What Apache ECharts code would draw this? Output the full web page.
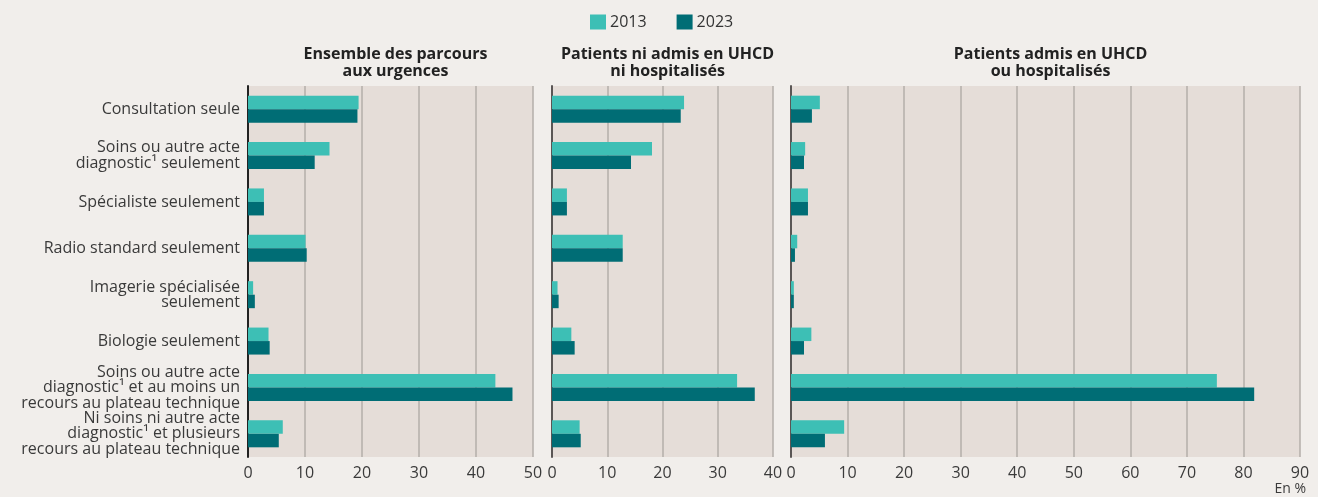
<!DOCTYPE html>
<html>
<head>
<meta charset="utf-8">
<script src="https://cdn.jsdelivr.net/npm/echarts@6/dist/echarts.min.js"></script>
<style>
  html, body { margin: 0; padding: 0; background: #f1eeeb; }
  #chart { width: 1318px; height: 497px; }
</style>
</head>
<body>
<div id="chart"></div>
<script>
var categories = [
  'Consultation seule',
  'Soins ou autre acte\ndiagnostic¹ seulement',
  'Spécialiste seulement',
  'Radio standard seulement',
  'Imagerie spécialisée\nseulement',
  'Biologie seulement',
  'Soins ou autre acte\ndiagnostic¹ et au moins un\nrecours au plateau technique',
  'Ni soins ni autre acte\ndiagnostic¹ et plusieurs\nrecours au plateau technique'
];
var panelTitles = [
  'Ensemble des parcours\naux urgences',
  'Patients ni admis en UHCD\nni hospitalisés',
  'Patients admis en UHCD\nou hospitalisés'
];
var years = ['2013', '2023'];
var ensemble2013 = [19.4, 14.3, 2.8, 10.1, 0.9, 3.6, 43.4, 6.1];
var ensemble2023 = [19.2, 11.7, 2.8, 10.3, 1.2, 3.8, 46.4, 5.4];
var niAdmis2013 = [23.9, 18.1, 2.7, 12.8, 1.0, 3.5, 33.5, 5.0];
var niAdmis2023 = [23.3, 14.3, 2.7, 12.8, 1.2, 4.1, 36.7, 5.2];
var admis2013 = [5.1, 2.5, 3.0, 1.1, 0.5, 3.6, 75.3, 9.4];
var admis2023 = [3.7, 2.3, 3.0, 0.7, 0.5, 2.3, 81.9, 6.0];
var axisMax = [50, 40, 90];

var colors = ['#3dbfb5', '#006d75'];
var font = 'Open Sans';

// panel positions in px
var panels = [
  { left: 248, width: 285 },
  { left: 552, width: 221 },
  { left: 791, width: 509 }
];
var gridTop = 86, gridHeight = 371;

var myChart = echarts.init(document.getElementById('chart'));

var grids = panels.map(function (p) {
  return {
    left: p.left, width: p.width, top: gridTop, height: gridHeight,
    show: true, backgroundColor: '#e5ddd8', borderWidth: 0
  };
});

var xAxes = panels.map(function (p, i) {
  return {
    type: 'value', gridIndex: i, min: 0, max: axisMax[i], interval: 10,
    axisLine: { show: false }, axisTick: { show: false },
    axisLabel: { color: '#3a3a3a', fontSize: 16, fontFamily: font, margin: 8 },
    splitLine: { show: true, lineStyle: { color: '#b3aeaa', width: 1.5 } }
  };
});

var yAxes = panels.map(function (p, i) {
  return {
    type: 'category', gridIndex: i, data: categories, inverse: true,
    axisTick: { show: false },
    axisLine: { show: true, lineStyle: { color: i === 0 ? '#222' : '#5a5655', width: 2 } },
    axisLabel: {
      show: i === 0, interval: 0, color: '#3a3a3a', fontSize: 16, fontFamily: font,
      lineHeight: 15.5, margin: 8, align: 'right'
    }
  };
});

var seriesData = [[ensemble2013, ensemble2023], [niAdmis2013, niAdmis2023], [admis2013, admis2023]];
var series = [];
seriesData.forEach(function (pair, i) {
  pair.forEach(function (vals, j) {
    series.push({
      name: years[j], type: 'bar', xAxisIndex: i, yAxisIndex: i,
      data: vals, barWidth: 13.5, barGap: '0%',
      itemStyle: { color: colors[j] }, silent: true
    });
  });
});

var titles = panels.map(function (p, i) {
  return {
    text: panelTitles[i], left: p.left + p.width / 2, top: 41, textAlign: 'center',
    textStyle: { fontSize: 16, fontWeight: 'bold', fontFamily: font, color: '#222', lineHeight: 17 }
  };
});

option = {
  backgroundColor: '#f1eeeb',
  animation: false,
  title: titles,
  legend: {
    data: years, top: 14, left: 590, padding: 0, itemWidth: 16, itemHeight: 15, itemGap: 30,
    icon: 'rect',
    textStyle: { fontSize: 16, fontFamily: font, color: '#333', padding: [0, 0, 0, -1] }
  },
  grid: grids,
  xAxis: xAxes,
  yAxis: yAxes,
  series: series,
  graphic: [{
    type: 'text', right: 12, top: 482,
    style: { text: 'En %', fontSize: 14, fontFamily: font, fill: '#3a3a3a' }
  }]
};

myChart.setOption(option);
</script>
</body>
</html>
